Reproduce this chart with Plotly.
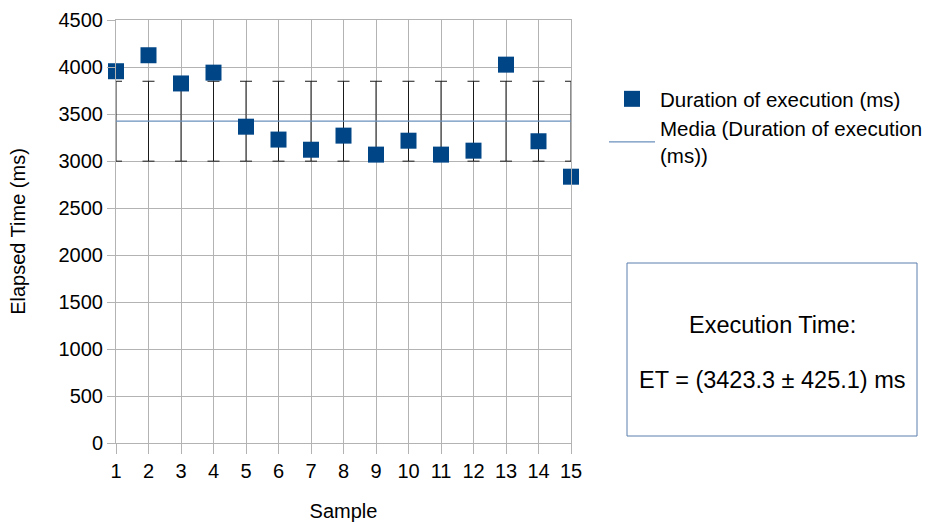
import plotly.graph_objects as go

samples = list(range(1, 16))
durations = [3955, 4125, 3825, 3940, 3365, 3228, 3120, 3270, 3068, 3216, 3068, 3110, 4025, 3210, 2833]
mean_et = 3423.3
std_et = 425.1
y_ticks = list(range(0, 4501, 500))

W, H = 932, 522
L, R, T, B = 116, 571, 20, 443

def px(x):
    return (x - L) / (R - L)

def py(y):
    return (B - y) / (B - T)

FONT = "Liberation Sans"
GRID = "#b3b3b3"

fig = go.Figure()

fig.add_trace(go.Scatter(
    x=samples, y=[mean_et] * len(samples), mode="markers",
    marker=dict(color="rgba(0,0,0,0)", size=1),
    error_y=dict(type="constant", value=std_et, color="#1a1a1a", thickness=1, width=6),
    showlegend=False, hoverinfo="skip", cliponaxis=False,
))
fig.add_trace(go.Scatter(
    x=[samples[0], samples[-1]], y=[mean_et, mean_et], mode="lines",
    line=dict(color="#6a90bd", width=1.3),
    name="Media (Duration of execution<br>(ms))", legendrank=2,
))
fig.add_trace(go.Scatter(
    x=samples, y=durations, mode="markers",
    marker=dict(symbol="square", size=16, color="#004586"),
    name="Duration of execution (ms)", legendrank=1, cliponaxis=False,
))

fig.update_layout(
    width=W, height=H,
    margin=dict(l=L, r=W - R, t=T, b=H - B, autoexpand=False),
    paper_bgcolor="white", plot_bgcolor="white",
    font=dict(family=FONT, size=20, color="#000000"),
    showlegend=True,
    legend=dict(x=px(604), y=py(79), xanchor="left", yanchor="top",
                font=dict(size=20.5, family=FONT), tracegroupgap=0,
                bgcolor="rgba(0,0,0,0)", itemwidth=46),
    xaxis=dict(range=[1, 15], tickvals=samples, showgrid=True, gridcolor=GRID, gridwidth=1,
               ticks="outside", ticklen=10, tickcolor=GRID, zeroline=False, automargin=False,
               showline=True, linecolor=GRID, mirror=True,
               title=dict(text="Sample", font=dict(size=20), standoff=27)),
    yaxis=dict(range=[0, 4500], tickvals=y_ticks, showgrid=True, gridcolor=GRID, gridwidth=1,
               ticks="outside", ticklen=8, tickcolor=GRID, zeroline=False, automargin=False,
               showline=True, linecolor=GRID, mirror=True,
               title=dict(text="Elapsed Time (ms)", font=dict(size=20), standoff=27)),
    shapes=[dict(type="rect", xref="paper", yref="paper",
                 x0=px(627), x1=px(917), y0=py(436), y1=py(263),
                 line=dict(color="#5b7fae", width=1), fillcolor="rgba(0,0,0,0)")],
    annotations=[
        dict(text="Execution Time:", xref="paper", yref="paper", x=px(772), y=py(325),
             showarrow=False, font=dict(size=23.5, family=FONT), xanchor="center", yanchor="middle"),
        dict(text="ET = (3423.3 ± 425.1) ms", xref="paper", yref="paper", x=px(772), y=py(380),
             showarrow=False, font=dict(size=23.5, family=FONT), xanchor="center", yanchor="middle"),
    ],
)

fig.write_html(
    "out.html",
    config={"displayModeBar": False},
    post_script=(
        "document.documentElement.style.margin='0';"
        "document.documentElement.style.overflow='hidden';"
        "document.body.style.margin='0';document.body.style.padding='0';"
        "document.body.style.overflow='hidden';"
    ),
)
